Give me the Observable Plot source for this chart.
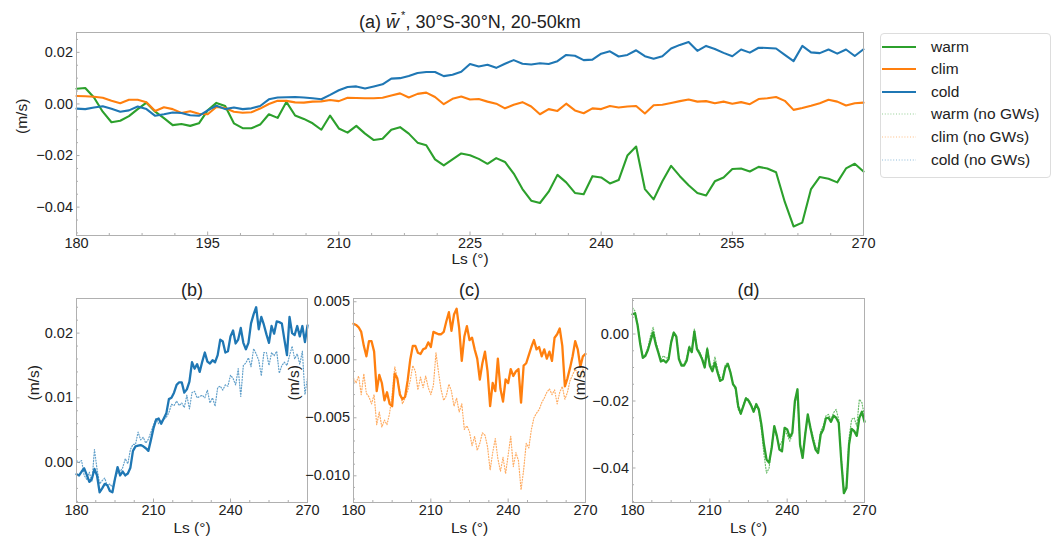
<!DOCTYPE html>
<html><head><meta charset="utf-8">
<script src="https://cdn.jsdelivr.net/npm/d3@7"></script>
<script src="https://cdn.jsdelivr.net/npm/@observablehq/plot@0.6"></script>
<style>
body{margin:0;background:#fff;font-family:"Liberation Sans",Arial,sans-serif;color:#222;}
#fig{position:relative;width:1057px;height:537px;overflow:hidden;background:#fff;}
#fig svg{position:absolute;left:0;top:0;overflow:visible;}
.ttl{position:absolute;left:270px;width:400px;top:13px;text-align:center;font-size:18px;line-height:18px;}
#legend{position:absolute;left:880px;top:33px;width:169px;height:143px;border:1px solid #ddd;border-radius:4px;background:#fff;}
.row{position:absolute;left:0;height:22px;font-size:15.5px;line-height:22px;}
.row svg{position:absolute !important;left:5px;top:0;}
.row span{position:absolute;left:50px;white-space:nowrap;}
</style></head><body><div id="fig"></div>
<script>
// Solar longitude (°)
const LS = [180,181,182,183,184,185,186,187,188,189,190,191,192,193,194,195,196,197,198,199,200,201,202,203,204,205,206,207,208,209,210,211,212,213,214,215,216,217,218,219,220,221,222,223,224,225,226,227,228,229,230,231,232,233,234,235,236,237,238,239,240,241,242,243,244,245,246,247,248,249,250,251,252,253,254,255,256,257,258,259,260,261,262,263,264,265,266,267,268,269,270];

const warm = [0.0059,0.0062,0.0025,-0.0030,-0.0071,-0.0065,-0.0047,-0.0020,0.0005,-0.0030,-0.0055,-0.0082,-0.0078,-0.0085,-0.0075,-0.0025,0.0004,-0.0008,-0.0075,-0.0094,-0.0094,-0.0080,-0.0040,-0.0054,0.0008,-0.0045,-0.0058,-0.0075,-0.0100,-0.0045,-0.0095,
-0.0111,-0.0085,-0.0115,-0.0140,-0.0135,-0.0100,-0.0090,-0.0115,-0.0150,-0.0160,-0.0215,-0.0238,-0.0215,-0.0192,-0.0199,-0.0213,-0.0232,-0.0210,-0.0225,-0.0270,-0.0330,-0.0375,-0.0384,-0.0340,-0.0275,-0.0304,-0.0345,-0.0350,-0.0280,-0.0285,
-0.0308,-0.0295,-0.0200,-0.0165,-0.0330,-0.0370,-0.0300,-0.0240,-0.0280,-0.0315,-0.0345,-0.0355,-0.0300,-0.0285,-0.0252,-0.0250,-0.0262,-0.0244,-0.0250,-0.0265,-0.0380,-0.0475,-0.0460,-0.0330,-0.0283,-0.0290,-0.0304,-0.0250,-0.0232,-0.0262];

const clim = [0.0031,0.0030,0.0028,0.0024,0.0012,0.0003,0.0016,0.0016,0.0007,-0.0027,-0.0013,-0.0020,-0.0035,-0.0028,-0.0038,-0.0040,-0.0012,-0.0016,-0.0030,-0.0034,-0.0032,-0.0018,0.0000,0.0012,0.0012,0.0006,0.0005,0.0009,0.0010,0.0015,0.0011,
0.0024,0.0023,0.0022,0.0022,0.0024,0.0033,0.0041,0.0025,0.0039,0.0044,0.0027,-0.0001,0.0020,0.0029,0.0017,0.0019,0.0009,0.0001,-0.0017,-0.0003,0.0007,-0.0010,-0.0040,-0.0020,-0.0027,0.0001,-0.0025,-0.0036,-0.0017,-0.0020,
-0.0008,-0.0014,-0.0010,-0.0008,-0.0037,-0.0005,-0.0003,0.0004,0.0011,0.0017,0.0009,0.0011,0.0003,0.0009,0.0001,0.0007,-0.0001,0.0019,0.0022,0.0027,0.0012,-0.0023,-0.0016,-0.0007,0.0003,0.0016,0.0009,-0.0006,0.0003,0.0005];

const cold = [-0.0018,-0.0020,-0.0014,-0.0009,-0.0019,-0.0030,-0.0025,-0.0010,-0.0020,-0.0046,-0.0040,-0.0033,-0.0035,-0.0044,-0.0046,-0.0025,-0.0007,-0.0020,-0.0014,-0.0020,-0.0017,-0.0008,0.0018,0.0025,0.0026,0.0027,0.0025,0.0022,0.0018,0.0035,0.0053,
0.0066,0.0068,0.0060,0.0068,0.0076,0.0098,0.0100,0.0108,0.0120,0.0124,0.0124,0.0108,0.0113,0.0125,0.0155,0.0145,0.0152,0.0140,0.0156,0.0170,0.0156,0.0153,0.0158,0.0155,0.0166,0.0190,0.0187,0.0170,0.0172,0.0195,
0.0204,0.0184,0.0190,0.0208,0.0185,0.0175,0.0185,0.0215,0.0229,0.0240,0.0206,0.0225,0.0213,0.0198,0.0185,0.0211,0.0199,0.0218,0.0217,0.0215,0.0190,0.0166,0.0225,0.0200,0.0197,0.0211,0.0195,0.0211,0.0186,0.0212];

const warmNoGW = [0.0078,0.0068,0.0030,-0.0025,-0.0068,-0.0062,-0.0040,-0.0005,0.0020,-0.0020,-0.0050,-0.0075,-0.0065,-0.0072,-0.0070,-0.0020,0.0006,-0.0005,-0.0068,-0.0090,-0.0090,-0.0072,-0.0035,-0.0048,0.0015,-0.0040,-0.0052,-0.0070,-0.0092,-0.0040,-0.0088,
-0.0100,-0.0068,-0.0105,-0.0130,-0.0128,-0.0092,-0.0085,-0.0112,-0.0150,-0.0168,-0.0225,-0.0240,-0.0210,-0.0190,-0.0195,-0.0210,-0.0228,-0.0205,-0.0230,-0.0285,-0.0360,-0.0415,-0.0400,-0.0330,-0.0280,-0.0310,-0.0335,-0.0320,-0.0290,-0.0300,
-0.0320,-0.0300,-0.0210,-0.0175,-0.0335,-0.0365,-0.0295,-0.0245,-0.0275,-0.0305,-0.0335,-0.0345,-0.0290,-0.0275,-0.0245,-0.0240,-0.0255,-0.0235,-0.0225,-0.0255,-0.0370,-0.0465,-0.0455,-0.0310,-0.0255,-0.0250,-0.0275,-0.0195,-0.0205,-0.0245];

const climNoGW = [-0.0016,-0.0020,-0.0014,-0.0030,-0.0012,-0.0029,-0.0032,-0.0038,-0.0030,-0.0056,-0.0045,-0.0058,-0.0052,-0.0056,-0.0046,-0.0030,-0.0006,-0.0016,-0.0027,-0.0038,-0.0033,-0.0027,-0.0018,-0.0005,-0.0010,-0.0026,-0.0015,-0.0024,-0.0014,-0.0024,-0.0030,
-0.0022,0.0006,-0.0011,-0.0026,-0.0035,-0.0031,-0.0021,-0.0027,-0.0040,-0.0033,-0.0045,-0.0038,-0.0060,-0.0057,-0.0062,-0.0074,-0.0066,-0.0078,-0.0072,-0.0063,-0.0065,-0.0075,-0.0095,-0.0080,-0.0068,-0.0085,-0.0096,-0.0084,-0.0098,-0.0082,
-0.0066,-0.0092,-0.0080,-0.0087,-0.0112,-0.0095,-0.0072,-0.0076,-0.0060,-0.0050,-0.0046,-0.0043,-0.0037,-0.0033,-0.0028,-0.0025,-0.0030,-0.0026,-0.0038,-0.0028,-0.0023,-0.0034,-0.0028,-0.0018,-0.0013,-0.0008,-0.0012,-0.0016,-0.0008,-0.0016];

const coldNoGW = [0.0003,0.0000,0.0003,-0.0020,-0.0026,-0.0015,-0.0030,0.0020,-0.0010,-0.0033,-0.0028,-0.0024,-0.0036,-0.0033,-0.0038,-0.0025,-0.0015,-0.0014,-0.0008,0.0006,-0.0002,0.0020,0.0028,0.0028,0.0047,0.0035,0.0039,0.0030,0.0036,0.0047,0.0058,
0.0068,0.0060,0.0064,0.0067,0.0070,0.0077,0.0090,0.0088,0.0095,0.0088,0.0092,0.0085,0.0104,0.0083,0.0108,0.0110,0.0100,0.0102,0.0104,0.0100,0.0112,0.0092,0.0100,0.0087,0.0116,0.0118,0.0112,0.0120,0.0118,0.0135,
0.0130,0.0120,0.0145,0.0102,0.0150,0.0154,0.0162,0.0148,0.0176,0.0168,0.0158,0.0134,0.0170,0.0170,0.0150,0.0170,0.0165,0.0172,0.0138,0.0150,0.0155,0.0150,0.0165,0.0180,0.0160,0.0168,0.0152,0.0172,0.0105,0.0131];

const COLORS = {warm:"#2ca02c", clim:"#ff7f0e", cold:"#1f77b4"};
const LEGEND = ["warm","clim","cold","warm (no GWs)","clim (no GWs)","cold (no GWs)"];
const XTICKS_A = [180,195,210,225,240,255,270];
const XTICKS_S = [180,210,240,270];

const rows = ys => LS.map((x,i)=>({x, y: ys[i]}));
const W = 1057, H = 537;
const FONT = '"Liberation Sans", Arial, sans-serif';

function panel(o){
  const fw = W - o.ml - o.mr, fh = H - o.mt - o.mb;
  const [y0,y1] = o.ydomain;
  const ty = (y1-y0)*3.5/fh, tyMin = (y1-y0)*2/fh;
  const tx = 90*3.5/fw, txMin = 90*2/fw;
  const marks = [];
  for (const s of o.series){
    marks.push(Plot.line(rows(s.data), {x:"x", y:"y", stroke:s.color, strokeWidth:s.width,
      strokeDasharray:s.dash||null, strokeOpacity:s.opacity||1, strokeLinejoin:"round"}));
  }
  marks.push(
    Plot.ruleX(o.xminor, {x:d=>d, y1:y0, y2:y0+tyMin, stroke:"#999", strokeWidth:0.8}),
    Plot.ruleX(o.xticks, {x:d=>d, y1:y0, y2:y0+ty, stroke:"#999", strokeWidth:0.8}),
    Plot.ruleY(o.yminor, {y:d=>d, x1:180, x2:180+txMin, stroke:"#999", strokeWidth:0.8}),
    Plot.ruleY(o.yticks, {y:d=>d, x1:180, x2:180+tx, stroke:"#999", strokeWidth:0.8}),
    Plot.frame({stroke:"#b0b0b0", strokeWidth:1}),
    Plot.text(["Ls (°)"], {frameAnchor:"bottom", dy:o.xlabDy, lineAnchor:"middle", fontSize:15.5, fill:"#222"}),
    Plot.text(["(m/s)"], {frameAnchor:"left", dx:o.ylabDx, rotate:-90, lineAnchor:"middle", fontSize:15.5, fill:"#222"})
  );
  if (o.title) marks.push(Plot.text([o.title], {frameAnchor:"top", dy:-7.8, lineAnchor:"middle", fontSize:18, fill:"#222"}));
  return Plot.plot({
    width:W, height:H, marginLeft:o.ml, marginRight:o.mr, marginTop:o.mt, marginBottom:o.mb,
    style:{fontFamily:FONT, fontSize:"14.5px", color:"#222", background:"transparent", overflow:"visible"},
    x:{domain:[180,270], ticks:o.xticks, tickSize:0, tickPadding:2.5, tickFormat:d3.format("d"), label:null},
    y:{domain:o.ydomain, ticks:o.yticks, tickSize:0, tickPadding:3.5, tickFormat:d3.format(o.yfmt), label:null},
    marks
  });
}

const fig = document.getElementById("fig");
const DOT = "1,1.8";

// Panel (a)
fig.appendChild(panel({
  ml:76, mr:W-863, mt:32, mb:H-235,
  ydomain:[-0.051,0.0277], yticks:[-0.04,-0.02,0,0.02], yminor:[-0.05,-0.045,-0.035,-0.03,-0.025,-0.015,-0.01,-0.005,0.005,0.01,0.015,0.025], yfmt:".2f",
  xticks:XTICKS_A, xminor:[183.75,187.5,191.25,198.75,202.5,206.25,213.75,217.5,221.25,228.75,232.5,236.25,243.75,247.5,251.25,258.75,262.5,266.25],
  xlabDy:24, ylabDx:-54,
  series:[
    {data:warm, color:COLORS.warm, width:2.1},
    {data:clim, color:COLORS.clim, width:2.1},
    {data:cold, color:COLORS.cold, width:2.1}
  ]
}));

// Panel (b) cold
fig.appendChild(panel({
  ml:76, mr:W-307, mt:298, mb:H-502,
  ydomain:[-0.00618,0.02535], yticks:[0,0.01,0.02], yminor:[-0.006,-0.004,-0.002,0.002,0.004,0.006,0.008,0.012,0.014,0.016,0.018,0.022,0.024], yfmt:".2f",
  xticks:XTICKS_S, xminor:[187.5,195,202.5,217.5,225,232.5,247.5,255,262.5],
  xlabDy:26, ylabDx:-42, title:"(b)",
  series:[
    {data:coldNoGW, color:COLORS.cold, width:1.2, dash:DOT, opacity:0.7},
    {data:cold, color:COLORS.cold, width:2.3}
  ]
}));

// Panel (c) clim
fig.appendChild(panel({
  ml:353, mr:W-585, mt:298, mb:H-502,
  ydomain:[-0.0123,0.00528], yticks:[-0.01,-0.005,0,0.005], yminor:[-0.012,-0.011,-0.009,-0.008,-0.007,-0.006,-0.004,-0.003,-0.002,-0.001,0.001,0.002,0.003,0.004], yfmt:".3f",
  xticks:XTICKS_S, xminor:[187.5,195,202.5,217.5,225,232.5,247.5,255,262.5],
  xlabDy:26, ylabDx:-59, title:"(c)",
  series:[
    {data:climNoGW, color:COLORS.clim, width:1.2, dash:DOT, opacity:0.65},
    {data:clim, color:COLORS.clim, width:2.3}
  ]
}));

// Panel (d) warm
fig.appendChild(panel({
  ml:632, mr:W-864, mt:298, mb:H-502,
  ydomain:[-0.0503,0.0106], yticks:[-0.04,-0.02,0], yminor:[-0.05,-0.045,-0.035,-0.03,-0.025,-0.015,-0.01,-0.005,0.005,0.01], yfmt:".2f",
  xticks:XTICKS_S, xminor:[187.5,195,202.5,217.5,225,232.5,247.5,255,262.5],
  xlabDy:26, ylabDx:-52, title:"(d)",
  series:[
    {data:warmNoGW, color:COLORS.warm, width:1.2, dash:DOT, opacity:0.7},
    {data:warm, color:COLORS.warm, width:2.3}
  ]
}));

// Title (a)
const t = document.createElement("div");
t.className = "ttl";
t.innerHTML = '(a) <span style="font-style:italic">w&#772;</span><sup style="font-size:11px;vertical-align:9px;line-height:0;margin-left:2px">*</sup>, 30°S-30°N, 20-50km';
fig.appendChild(t);

// Legend
const lg = document.createElement("div");
lg.id = "legend";
const keys = ["warm","clim","cold","warm","clim","cold"];
LEGEND.forEach((lab,i)=>{
  const r = document.createElement("div");
  r.className = "row";
  r.style.top = (1.5 + i*22.6) + "px";
  const dotted = i >= 3;
  r.innerHTML = `<svg width="40" height="22"><line x1="1" x2="35" y1="11" y2="11" stroke="${COLORS[keys[i]]}" stroke-width="${dotted?1.2:2}" ${dotted?'stroke-dasharray="1,1.8" stroke-opacity="0.5"':''}/></svg><span>${lab}</span>`;
  lg.appendChild(r);
});
fig.appendChild(lg);
</script>
</body></html>
